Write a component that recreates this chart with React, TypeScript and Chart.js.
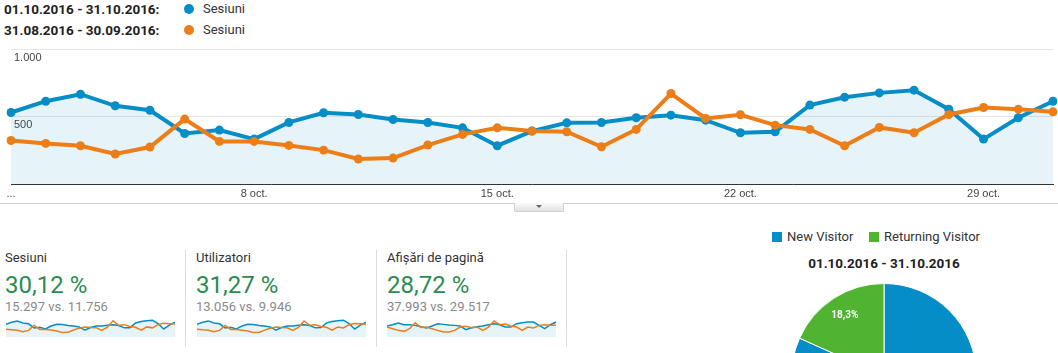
import React, { useEffect, useRef } from "react";
import { Chart, registerables } from "chart.js";

Chart.register(...registerables);

// ---------- data ----------
const DAYS = [
  "1 oct.", "2 oct.", "3 oct.", "4 oct.", "5 oct.", "6 oct.", "7 oct.", "8 oct.", "9 oct.", "10 oct.",
  "11 oct.", "12 oct.", "13 oct.", "14 oct.", "15 oct.", "16 oct.", "17 oct.", "18 oct.", "19 oct.", "20 oct.",
  "21 oct.", "22 oct.", "23 oct.", "24 oct.", "25 oct.", "26 oct.", "27 oct.", "28 oct.", "29 oct.", "30 oct.", "31 oct.",
];

const SESSIONS_CUR = [
  532, 616, 668, 582, 549, 376, 401, 334, 458, 530, 517, 480, 458, 418, 285, 394,
  455, 458, 493, 512, 475, 381, 389, 587, 646, 678, 698, 557, 334, 493, 616,
];
const SESSIONS_PREV = [
  324, 302, 285, 223, 275, 483, 317, 317, 287, 252, 186, 193, 290, 369, 418, 394,
  389, 277, 406, 673, 488, 515, 438, 406, 285, 421, 381, 517, 569, 557, 537,
];

const USERS_CUR = [
  454, 525, 570, 496, 468, 321, 342, 285, 391, 452, 441, 409, 391, 357, 243, 336,
  388, 391, 420, 437, 405, 325, 332, 501, 551, 578, 595, 475, 285, 420, 525,
];
const USERS_PREV = [
  274, 255, 241, 189, 233, 409, 268, 268, 243, 213, 157, 163, 245, 312, 354, 333,
  329, 234, 343, 569, 413, 436, 371, 343, 241, 356, 322, 437, 481, 471, 454,
];

const PAGEVIEWS_CUR = [
  1142, 1280, 1453, 1280, 1280, 1211, 1073, 934, 1142, 1384, 1315, 1246, 1211, 1142, 761, 969,
  1073, 1142, 1280, 1384, 1280, 1038, 1038, 1384, 1488, 1557, 1557, 1211, 865, 1280, 1557,
];
const PAGEVIEWS_PREV = [
  1038, 865, 692, 588, 865, 1488, 1003, 1038, 865, 692, 519, 519, 692, 1038, 1107, 969,
  1038, 692, 1038, 1661, 1280, 1349, 1142, 1038, 692, 1038, 934, 1211, 1280, 1211, 1211,
];

const X_TICK_INDEX = [0, 7, 14, 21, 28];
const X_TICK_TEXT = ["...", "8 oct.", "15 oct.", "22 oct.", "29 oct."];
const Y_TICK_VALUES = [0, 500, 1000];
const Y_TICK_TEXT = ["", "500", "1.000"];

const PERIOD_CUR = "01.10.2016 - 31.10.2016";
const PERIOD_PREV = "31.08.2016 - 30.09.2016";
const SERIES_NAME = "Sesiuni";

const METRIC_NAMES = ["Sesiuni", "Utilizatori", "Afișări de pagină"];
const METRIC_CHANGE = ["30,12 %", "31,27 %", "28,72 %"];
const METRIC_TOTALS = ["15.297 vs. 11.756", "13.056 vs. 9.946", "37.993 vs. 29.517"];
const METRIC_MAX = [1000, 850, 2500];

const VISITOR_TYPES = ["New Visitor", "Returning Visitor"];
const VISITOR_SHARE = [81.7, 18.3];
const VISITOR_LABELS = ["81,7%", "18,3%"];

// ---------- styles ----------
const BLUE = "#058dc7";
const ORANGE = "#ed7e17";
const GREEN = "#50b432";
const FILL = "rgba(5,141,199,0.10)";

function MainChart() {
  const ref = useRef<HTMLCanvasElement>(null);
  useEffect(() => {
    const chart = new Chart(ref.current!, {
      type: "line",
      data: {
        labels: DAYS,
        datasets: [
          {
            label: PERIOD_PREV,
            data: SESSIONS_PREV,
            borderColor: ORANGE,
            backgroundColor: ORANGE,
            pointBackgroundColor: ORANGE,
            borderWidth: 4,
            pointRadius: 4.5,
            pointBorderWidth: 0,
            tension: 0,
            fill: false,
          },
          {
            label: PERIOD_CUR,
            data: SESSIONS_CUR,
            borderColor: BLUE,
            backgroundColor: FILL,
            pointBackgroundColor: BLUE,
            borderWidth: 4,
            pointRadius: 4.5,
            pointBorderWidth: 0,
            tension: 0,
            fill: "origin",
          },
        ],
      },
      options: {
        animation: false,
        responsive: true,
        maintainAspectRatio: false,
        events: [],
        layout: { padding: { left: 11, right: 5, top: 7, bottom: 0 } },
        plugins: { legend: { display: false }, tooltip: { enabled: false } },
        scales: {
          x: {
            type: "category",
            offset: false,
            grid: { display: false, drawTicks: false },
            border: { display: true, color: "#333", width: 1 },
            afterFit: (s: any) => {
              s.height = 20;
            },
            ticks: {
              autoSkip: false,
              maxRotation: 0,
              padding: 3,
              color: "#444",
              font: { family: "Arial, 'Liberation Sans'", size: 11 },
              callback: (_v: any, i: number) => {
                const k = X_TICK_INDEX.indexOf(i);
                return k >= 0 ? X_TICK_TEXT[k] : "";
              },
            },
          },
          y: {
            min: 0,
            max: 1000,
            afterFit: (s: any) => {
              s.width = 0;
            },
            afterBuildTicks: (s: any) => {
              s.ticks = Y_TICK_VALUES.map((v) => ({ value: v }));
            },
            border: { display: false },
            grid: {
              drawTicks: false,
              color: (c: any) => (c.tick && c.tick.value === 0 ? "rgba(0,0,0,0)" : "#e6e6e6"),
            },
            ticks: {
              mirror: true,
              padding: 3,
              labelOffset: 8,
              color: "#444",
              font: { family: "Arial, 'Liberation Sans'", size: 11 },
              callback: (v: any) => {
                const k = Y_TICK_VALUES.indexOf(Number(v));
                return k >= 0 ? Y_TICK_TEXT[k] : "";
              },
            },
          },
        },
      },
    });
    return () => chart.destroy();
  }, []);
  return (
    <div style={{ position: "absolute", left: 0, top: 40, width: 1058, height: 164 }}>
      <canvas ref={ref} />
    </div>
  );
}

function Sparkline({ cur, prev, max, left, width }: { cur: number[]; prev: number[]; max: number; left: number; width: number }) {
  const ref = useRef<HTMLCanvasElement>(null);
  useEffect(() => {
    const chart = new Chart(ref.current!, {
      type: "line",
      data: {
        labels: DAYS,
        datasets: [
          { data: prev, borderColor: ORANGE, borderWidth: 1.5, pointRadius: 0, fill: false, tension: 0 },
          { data: cur, borderColor: BLUE, backgroundColor: FILL, borderWidth: 1.5, pointRadius: 0, fill: "origin", tension: 0 },
        ],
      },
      options: {
        animation: false,
        responsive: true,
        maintainAspectRatio: false,
        events: [],
        layout: { padding: 0 },
        plugins: { legend: { display: false }, tooltip: { enabled: false } },
        scales: {
          x: { display: false, offset: false },
          y: { display: false, min: 0, max },
        },
      },
    });
    return () => chart.destroy();
  }, []);
  return (
    <div style={{ position: "absolute", left, top: 313, width, height: 24 }}>
      <canvas ref={ref} />
    </div>
  );
}

const pieLabelPlugin = {
  id: "pieLabels",
  afterDatasetsDraw(chart: any) {
    const { ctx } = chart;
    const meta = chart.getDatasetMeta(0);
    ctx.save();
    ctx.fillStyle = "#fff";
    ctx.font = "bold 10px Roboto";
    ctx.textAlign = "center";
    ctx.textBaseline = "middle";
    meta.data.forEach((arc: any, i: number) => {
      const { x, y, startAngle, endAngle, outerRadius } = arc.getProps(["x", "y", "startAngle", "endAngle", "outerRadius"], true);
      const a = (startAngle + endAngle) / 2;
      const r = outerRadius * 0.78;
      ctx.fillText(VISITOR_LABELS[i], x + Math.cos(a) * r, y + Math.sin(a) * r);
    });
    ctx.restore();
  },
};

function PieChart() {
  const ref = useRef<HTMLCanvasElement>(null);
  useEffect(() => {
    const chart = new Chart(ref.current!, {
      type: "pie",
      data: {
        labels: VISITOR_TYPES,
        datasets: [
          {
            data: VISITOR_SHARE,
            backgroundColor: [BLUE, GREEN],
            borderColor: "#fff",
            borderWidth: 1,
          },
        ],
      },
      options: {
        animation: false,
        responsive: true,
        maintainAspectRatio: false,
        events: [],
        layout: { padding: 0 },
        plugins: { legend: { display: false }, tooltip: { enabled: false } },
      },
      plugins: [pieLabelPlugin],
    });
    return () => chart.destroy();
  }, []);
  return (
    <div style={{ position: "absolute", left: 791, top: 283, width: 186, height: 186 }}>
      <canvas ref={ref} />
    </div>
  );
}

const abs = (s: React.CSSProperties): React.CSSProperties => ({ position: "absolute", whiteSpace: "nowrap", ...s });

export default function App() {
  const cardLeft = [5, 196, 387];
  const sparkLeft = [6, 197, 387];
  const sparkData = [
    [SESSIONS_CUR, SESSIONS_PREV],
    [USERS_CUR, USERS_PREV],
    [PAGEVIEWS_CUR, PAGEVIEWS_PREV],
  ];
  const sepX = [185, 376, 566];
  const legendRows = [
    { period: PERIOD_CUR, color: BLUE, y: 0 },
    { period: PERIOD_PREV, color: ORANGE, y: 21 },
  ];
  return (
    <div
      style={{
        position: "absolute",
        left: 0,
        top: 0,
        width: 1058,
        height: 353,
        overflow: "hidden",
        background: "#fff",
        fontFamily: "Roboto, Arial, sans-serif",
        color: "#333",
      }}
    >
      {legendRows.map((r, i) => (
        <React.Fragment key={i}>
          <div style={abs({ left: 4, top: r.y, height: 18, lineHeight: "18px", fontSize: 13.5, fontWeight: 700, color: "#222" })}>
            {r.period + ":"}
          </div>
          <div style={abs({ left: 184, top: r.y + 4, width: 10, height: 10, borderRadius: 5, background: r.color })} />
          <div style={abs({ left: 203, top: r.y, height: 18, lineHeight: "18px", fontSize: 13, color: "#333" })}>{SERIES_NAME}</div>
        </React.Fragment>
      ))}

      <MainChart />

      <div style={abs({ left: 0, top: 203, width: 1058, height: 1, background: "#d0d0d0" })} />
      <div
        style={abs({
          left: 514,
          top: 203,
          width: 48,
          height: 8,
          background: "linear-gradient(#fafafa, #e2e2e2)",
          border: "1px solid #cfcfcf",
          borderTop: "none",
          borderRadius: "0 0 2px 2px",
        })}
      />
      <div
        style={abs({
          left: 536,
          top: 205,
          width: 0,
          height: 0,
          borderLeft: "3px solid transparent",
          borderRight: "3px solid transparent",
          borderTop: "3px solid #666",
        })}
      />

      {METRIC_NAMES.map((name, i) => (
        <React.Fragment key={name}>
          <div style={abs({ left: cardLeft[i], top: 249, height: 18, lineHeight: "18px", fontSize: 13, color: "#333" })}>{name}</div>
          <div style={abs({ left: cardLeft[i], top: 270, height: 30, lineHeight: "30px", fontSize: 24, color: "#2a8c4f" })}>
            {METRIC_CHANGE[i]}
          </div>
          <div style={abs({ left: cardLeft[i], top: 298, height: 17, lineHeight: "17px", fontSize: 13, color: "#8a8a8a" })}>
            {METRIC_TOTALS[i]}
          </div>
          <Sparkline cur={sparkData[i][0]} prev={sparkData[i][1]} max={METRIC_MAX[i]} left={sparkLeft[i]} width={169} />
          <div style={abs({ left: sepX[i], top: 250, width: 1, height: 97, background: "#dcdcdc" })} />
        </React.Fragment>
      ))}

      {VISITOR_TYPES.map((t, i) => (
        <React.Fragment key={t}>
          <div style={abs({ left: [772, 869][i], top: 232, width: 10, height: 10, background: [BLUE, GREEN][i] })} />
          <div style={abs({ left: [787, 884][i], top: 228, height: 18, lineHeight: "18px", fontSize: 13, color: "#333" })}>{t}</div>
        </React.Fragment>
      ))}
      <div style={abs({ left: 784, top: 254, width: 200, textAlign: "center", height: 18, lineHeight: "18px", fontSize: 13.5, fontWeight: 700, color: "#222" })}>
        {PERIOD_CUR}
      </div>
      <PieChart />
    </div>
  );
}
